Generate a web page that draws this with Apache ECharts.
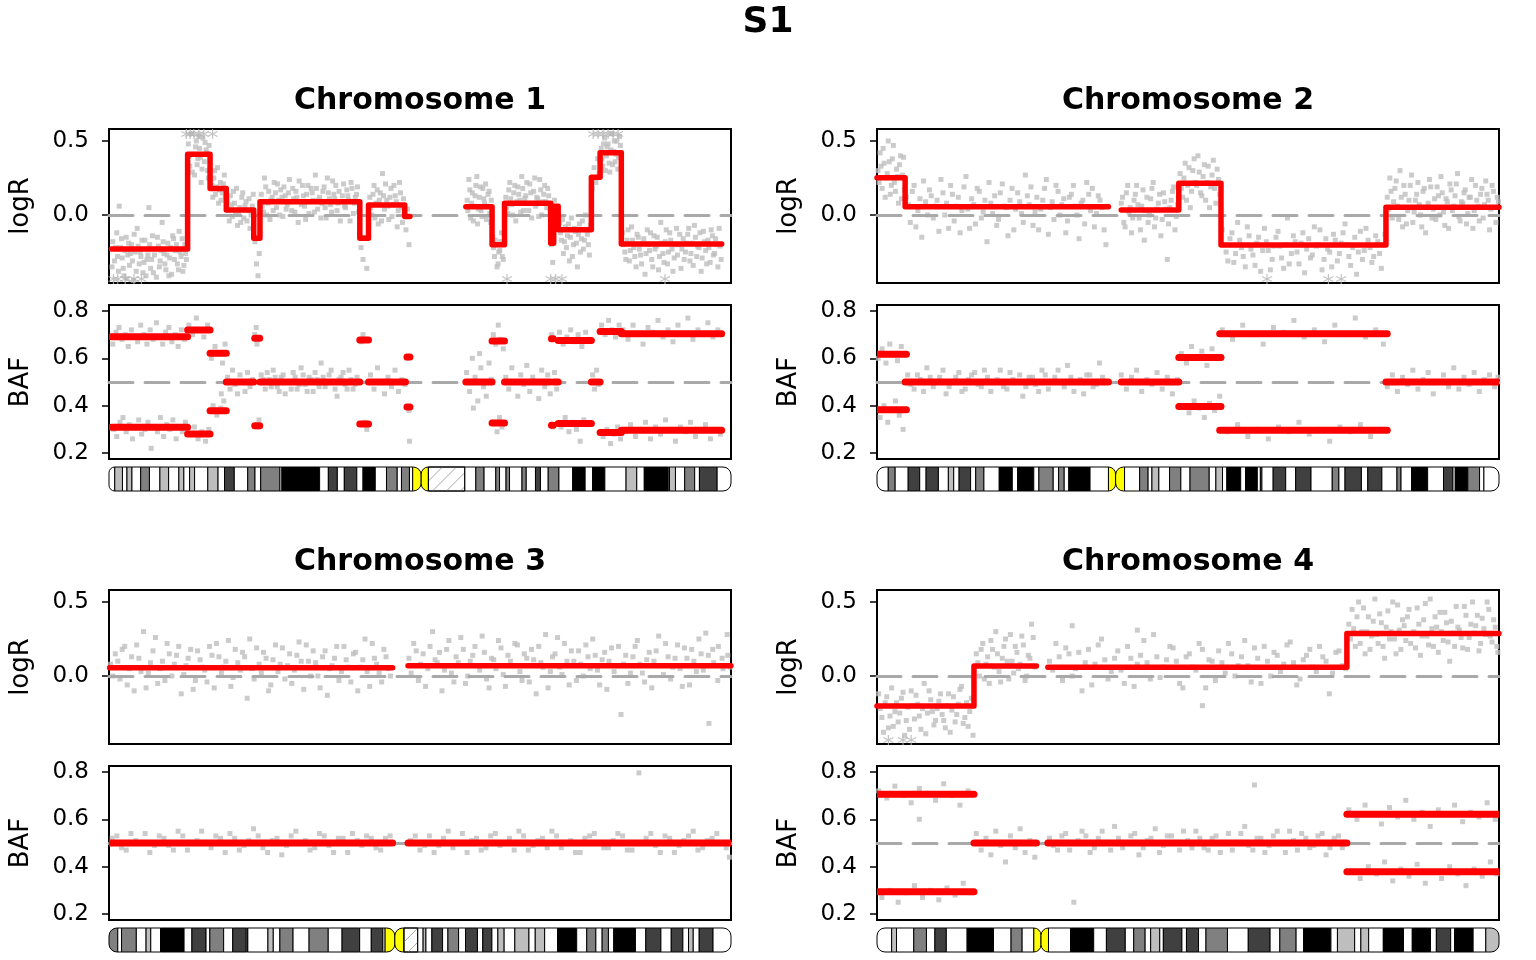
<!DOCTYPE html>
<html><head><meta charset="utf-8">
<script src="https://cdn.jsdelivr.net/npm/echarts@6/dist/echarts.min.js"></script>
<style>html,body{margin:0;padding:0;background:#fff}#c{width:1536px;height:960px}</style>
</head><body><div id="c"></div>
<script>
// ---------------- DATA ----------------
const sampleName = 'S1';
const chromosomeTitles = ['Chromosome 1', 'Chromosome 2', 'Chromosome 3', 'Chromosome 4'];
const chromosomeLengths = [249.25, 243.2, 198.02, 191.15]; // Mb
const logRTicks = [0.0, 0.5];
const bafTicks = [0.2, 0.4, 0.6, 0.8];
const logRRange = [-0.459, 0.581];
const bafRange = [0.175, 0.825];

// segments: [start Mb, end Mb, value]
const chr1LogRSegments = [[1.0,31.5,-0.23],[31.5,40.5,0.41],[40.5,47.0,0.18],[47.0,58.0,0.034],[58.0,60.5,-0.157],[60.5,100.5,0.09],[100.5,104.0,-0.157],[104.0,118.5,0.068],[118.5,120.6,-0.01],[143.0,153.5,0.056],[153.5,158.5,-0.20],[158.5,177.0,0.079],[177.0,178.2,-0.19],[178.2,180.0,0.06],[180.0,193.3,-0.10],[193.3,196.8,0.255],[196.8,205.3,0.42],[205.3,245.5,-0.196]];
const chr1BafSegments = [[1.0,31.5,0.691],[31.5,40.5,0.72],[40.5,47.0,0.621],[47.0,58.0,0.5],[58.4,60.4,0.685],[60.5,100.5,0.5],[100.5,104.0,0.677],[104.0,118.8,0.5],[119.4,120.6,0.606],[143.0,153.5,0.5],[153.5,158.5,0.673],[158.5,176.8,0.5],[177.3,178.0,0.683],[178.2,180.0,0.5],[180.0,193.3,0.675],[193.3,196.8,0.5],[196.8,205.3,0.713],[205.3,245.5,0.704]];
const chr2LogRSegments = [[0.0,11.0,0.252],[11.0,90.5,0.056],[95.5,118.0,0.034],[118.0,134.5,0.214],[134.5,199.0,-0.203],[199.0,243.2,0.052]];
const chr2BafSegments = [[0.0,11.5,0.617],[11.0,90.5,0.5],[95.5,118.0,0.5],[118.0,134.5,0.603],[134.0,199.5,0.704],[199.0,243.2,0.5]];
const chr3LogRSegments = [[0.2,90.3,0.056],[95.2,198.0,0.07]];
const chr3BafSegments = [[0.2,90.3,0.5],[95.2,198.0,0.5]];
const chr4LogRSegments = [[0.0,29.8,-0.203],[29.8,49.0,0.068],[52.5,144.4,0.059],[144.4,191.15,0.288]];
const chr4BafSegments = [[0.0,29.8,0.706],[29.8,49.0,0.5],[52.5,144.4,0.5],[144.4,191.15,0.621]];

// probe-level points: [position Mb, value]
const chr1LogRPoints = [[1.5,-0.18],[2.2,-0.31],[3.1,-0.12],[3.8,-0.38],[4.1,0.06],[4.6,-0.22],[5.3,-0.29],[6.0,-0.41],[6.9,-0.15],[7.5,-0.27],[8.2,-0.34],[9.0,-0.2],[9.8,-0.44],[10.5,-0.25],[11.3,-0.09],[12.1,-0.33],[12.8,-0.28],[13.6,-0.39],[14.4,-0.17],[15.2,-0.3],[15.9,-0.23],[16.0,0.05],[16.7,-0.36],[17.4,-0.14],[18.2,-0.27],[19.0,-0.42],[19.8,-0.21],[20.5,-0.31],[21.3,-0.05],[22.0,-0.26],[22.8,-0.37],[23.6,-0.19],[24.3,-0.29],[25.1,-0.4],[25.9,-0.16],[26.6,-0.24],[27.4,-0.33],[28.1,-0.11],[28.9,-0.28],[29.6,-0.38],[30.4,-0.2],[31.0,-0.3],
[31.8,0.48],[32.4,0.33],[33.0,0.55],[33.7,0.41],[34.3,0.27],[35.0,0.5],[35.6,0.38],[36.3,0.45],[36.9,0.22],[37.6,0.52],[38.2,0.36],[38.9,0.44],[39.5,0.3],[40.1,0.47],
[40.8,0.24],[41.6,0.12],[42.3,0.3],[43.1,0.19],[43.9,0.08],[44.6,0.22],[45.4,0.15],[46.2,0.27],
[47.4,0.1],[48.2,-0.04],[49.0,0.07],[49.9,0.16],[50.7,0.01],[51.5,-0.07],[52.4,0.05],[53.2,0.12],[54.0,-0.02],[54.9,0.09],[55.7,0.03],[56.5,-0.09],[57.4,0.06],
[58.5,-0.18],[59.1,-0.33],[59.7,-0.41],[60.2,-0.26],
[61.0,0.14],[61.9,0.02],[62.8,0.19],[63.6,0.08],[64.5,-0.03],[65.4,0.12],[66.2,0.22],[67.1,0.05],[68.0,0.1],[68.8,0.17],[69.7,-0.01],[70.6,0.13],[71.4,0.07],[72.3,0.24],[73.2,0.03],[74.0,0.11],[74.9,0.16],[75.8,-0.05],[76.6,0.09],[77.5,0.2],[78.4,0.06],[79.2,0.14],[80.1,0.01],[81.0,0.18],[81.8,0.1],[82.7,0.27],[83.6,0.04],[84.4,0.12],[85.3,0.08],[86.2,0.19],[87.0,-0.02],[87.9,0.15],[88.8,0.07],[89.6,0.23],[90.5,0.11],[91.4,0.03],[92.2,0.16],[93.1,0.09],[94.0,0.21],[94.8,0.05],[95.7,0.13],[96.6,-0.04],[97.4,0.18],[98.3,0.08],[99.2,0.14],[100.0,0.02],
[101.0,-0.22],[101.8,-0.3],[102.5,-0.15],[103.3,-0.36],
[104.5,0.12],[105.3,0.0],[106.2,0.2],[107.0,0.08],[107.9,-0.06],[108.7,0.15],[109.6,0.28],[110.4,0.04],[111.3,0.1],[112.1,-0.03],[113.0,0.18],[113.8,0.07],[114.7,0.13],[115.5,-0.08],[116.4,0.22],[117.2,0.05],[118.0,0.11],[119.0,-0.1],[119.6,0.04],[120.2,-0.2],
[143.5,0.1],[144.2,0.24],[144.9,-0.02],[145.6,0.15],[146.3,0.06],[147.0,0.2],[147.7,-0.06],[148.4,0.12],[149.1,0.03],[149.8,0.18],[150.5,0.08],[151.2,-0.03],[151.9,0.14],[152.6,0.01],[153.2,0.1],
[153.8,-0.15],[154.5,-0.28],[155.2,-0.2],[155.9,-0.33],[156.6,-0.24],[157.3,-0.12],[158.0,-0.3],
[159.0,0.12],[159.8,0.01],[160.6,0.22],[161.4,0.07],[162.2,0.15],[163.0,-0.04],[163.8,0.19],[164.6,0.1],[165.4,0.26],[166.2,0.03],[167.0,0.13],[167.8,0.08],[168.6,0.21],[169.4,-0.02],[170.2,0.16],[171.0,0.06],[171.8,0.11],[172.6,0.24],[173.4,0.0],[174.2,0.14],[175.0,0.09],[175.8,0.18],[176.6,0.04],
[177.3,-0.2],[177.8,-0.32],[178.5,0.1],[179.4,0.02],
[180.5,-0.05],[181.3,-0.17],[182.1,-0.26],[182.9,-0.08],[183.7,-0.14],[184.5,-0.31],[185.3,-0.02],[186.1,-0.2],[186.9,-0.11],[187.7,-0.35],[188.5,-0.06],[189.3,-0.16],[190.1,-0.23],[190.9,0.0],[191.7,-0.13],[192.5,-0.27],
[193.7,0.18],[194.4,0.32],[195.1,0.22],[195.8,0.38],[196.4,0.28],
[197.2,0.45],[197.9,0.33],[198.6,0.52],[199.3,0.4],[200.0,0.48],[200.7,0.29],[201.4,0.55],[202.1,0.43],[202.8,0.36],[203.5,0.5],[204.2,0.39],[204.9,0.47],
[205.8,-0.12],[206.7,-0.25],[207.6,-0.17],[208.5,-0.31],[209.4,-0.08],[210.3,-0.22],[211.2,-0.35],[212.1,-0.15],[213.0,-0.27],[213.9,-0.19],[214.8,-0.4],[215.7,-0.1],[216.6,-0.24],[217.5,-0.3],[218.4,-0.14],[219.3,-0.21],[220.2,-0.37],[221.1,-0.05],[222.0,-0.26],[222.9,-0.18],[223.8,-0.33],[224.7,-0.12],[225.6,-0.23],[226.5,-0.29],[227.4,-0.09],[228.3,-0.2],[229.2,-0.36],[230.1,-0.16],[231.0,-0.25],[231.9,-0.13],[232.8,-0.31],[233.7,-0.19],[234.6,-0.07],[235.5,-0.28],[236.4,-0.22],[237.3,-0.38],[238.2,-0.11],[239.1,-0.24],[240.0,-0.17],[240.9,-0.32],[241.8,-0.14],[242.7,-0.26],[243.6,-0.2],[244.5,-0.09],[245.3,-0.3]];
const chr1LogRPointsB = [[1.2,-0.35],[2.6,-0.22],[3.4,-0.28],[5.0,-0.16],[5.7,-0.36],[6.4,-0.24],[7.2,-0.43],[7.9,-0.19],[8.6,-0.26],[9.4,-0.31],[10.1,-0.13],[10.9,-0.38],[11.7,-0.21],[12.5,-0.25],[13.2,-0.17],[14.0,-0.32],[14.8,-0.41],[15.6,-0.27],[16.3,-0.2],[17.1,-0.3],[17.8,-0.39],[18.6,-0.23],[19.4,-0.15],[20.2,-0.35],[20.9,-0.24],[21.7,-0.18],[22.4,-0.33],[23.2,-0.27],[24.0,-0.41],[24.7,-0.22],[25.5,-0.14],[26.2,-0.3],[27.0,-0.2],[27.8,-0.37],[28.5,-0.25],[29.3,-0.16],[30.0,-0.34],[30.7,-0.26],
[32.1,0.4],[33.4,0.29],[34.7,0.46],[35.3,0.34],[36.0,0.53],[36.6,0.39],[37.3,0.31],[38.5,0.49],[39.2,0.42],[39.8,0.25],
[41.2,0.2],[42.0,0.25],[42.7,0.14],[43.5,0.32],[44.2,0.17],[45.0,0.1],[45.8,0.21],[46.6,0.13],
[47.8,0.03],[48.6,0.13],[49.4,-0.01],[50.3,0.08],[51.1,0.18],[51.9,0.02],[52.8,-0.05],[53.6,0.15],[54.5,0.06],[55.3,-0.04],[56.1,0.11],[56.9,0.0],[57.8,0.14],
[61.4,0.06],[62.3,0.25],[63.2,0.0],[64.0,0.16],[64.9,0.1],[65.8,0.03],[66.7,0.15],[67.5,0.21],[68.4,0.0],[69.3,0.12],[70.1,0.19],[71.0,0.04],[71.9,0.15],[72.7,0.09],[73.6,0.18],[74.5,0.02],[75.3,0.12],[76.2,0.23],[77.1,0.07],[77.9,0.13],[78.8,-0.03],[79.7,0.2],[80.5,0.09],[81.4,0.15],[82.3,0.02],[83.1,0.18],[84.0,0.1],[84.9,-0.02],[85.7,0.16],[86.6,0.05],[87.5,0.25],[88.3,0.11],[89.2,0.02],[90.1,0.14],[90.9,0.2],[91.8,0.08],[92.7,-0.04],[93.5,0.13],[94.4,0.06],[95.3,0.17],[96.1,0.1],[97.0,0.22],[97.9,0.01],[98.7,0.12],[99.6,0.19],
[104.9,0.05],[105.8,0.14],[106.6,-0.02],[107.5,0.17],[108.3,0.1],[109.2,-0.04],[110.0,0.13],[110.8,0.21],[111.7,0.06],[112.6,0.12],[113.4,-0.01],[114.2,0.2],[115.1,0.09],[115.9,0.03],[116.8,0.15],[117.6,-0.05],
[143.8,0.03],[144.6,0.17],[145.3,0.08],[146.0,-0.04],[146.7,0.13],[147.4,0.26],[148.1,0.04],[148.8,0.19],[149.5,-0.01],[150.2,0.11],[150.9,0.21],[151.6,0.06],[152.3,0.16],[153.0,-0.05],
[154.1,-0.22],[154.8,-0.17],[155.5,-0.35],[156.2,-0.25],[156.9,-0.18],[157.6,-0.28],
[159.4,0.05],[160.2,0.17],[161.0,0.11],[161.8,0.0],[162.6,0.2],[163.4,0.09],[164.2,0.14],[165.0,0.02],[165.8,0.18],[166.6,0.11],[167.4,0.22],[168.2,0.03],[169.0,0.15],[169.8,0.08],[170.6,0.25],[171.4,0.12],[172.2,-0.01],[173.0,0.17],[173.8,0.09],[174.6,0.2],[175.4,0.05],[176.2,0.13],
[180.9,-0.12],[181.7,-0.03],[182.5,-0.18],[183.3,-0.22],[184.1,-0.06],[184.9,-0.15],[185.7,-0.28],[186.5,-0.09],[187.3,-0.19],[188.1,-0.13],[188.9,-0.25],[189.7,-0.04],[190.5,-0.17],[191.3,-0.1],[192.1,-0.2],[192.9,-0.07],
[197.5,0.38],[198.2,0.48],[198.9,0.3],[199.6,0.46],[200.4,0.35],[201.1,0.44],[201.8,0.34],[202.5,0.5],[203.2,0.41],[203.9,0.31],[204.6,0.53],
[206.2,-0.2],[207.1,-0.3],[208.0,-0.1],[208.9,-0.24],[209.8,-0.17],[210.7,-0.28],[211.6,-0.13],[212.5,-0.23],[213.4,-0.33],[214.3,-0.16],[215.2,-0.26],[216.1,-0.2],[217.0,-0.12],[217.9,-0.35],[218.8,-0.23],[219.7,-0.15],[220.6,-0.28],[221.5,-0.19],[222.4,-0.32],[223.3,-0.1],[224.2,-0.25],[225.1,-0.17],[226.0,-0.38],[226.9,-0.2],[227.8,-0.27],[228.7,-0.13],[229.6,-0.23],[230.5,-0.3],[231.4,-0.19],[232.3,-0.09],[233.2,-0.26],[234.1,-0.34],[235.0,-0.15],[235.9,-0.21],[236.8,-0.12],[237.7,-0.29],[238.6,-0.18],[239.5,-0.33],[240.4,-0.22],[241.3,-0.1],[242.2,-0.27],[243.1,-0.16],[244.0,-0.35],[244.9,-0.21]];
const chr1LogROutliers = [[1.8,-0.432],[3.5,-0.432],[6.5,-0.432],[10.0,-0.432],[13.0,-0.432],[31.0,0.547],[32.5,0.547],[34.0,0.547],[36.0,0.547],[38.0,0.547],[41.5,0.547],[159.5,-0.432],[177.0,-0.432],[179.0,-0.432],[181.5,-0.432],[194.0,0.547],[196.0,0.547],[198.0,0.547],[200.0,0.547],[202.0,0.547],[204.0,0.547],[222.8,-0.432]];
const chr1BafPoints = [[1.5,0.66],[2.8,0.71],[4.0,0.73],[5.2,0.68],[6.5,0.7],[7.7,0.65],[9.0,0.72],[10.2,0.69],[11.5,0.67],[12.7,0.74],[14.0,0.7],[15.2,0.66],[16.5,0.72],[17.7,0.68],[19.0,0.75],[20.2,0.69],[21.5,0.66],[22.7,0.71],[24.0,0.73],[25.2,0.67],[26.5,0.7],[27.7,0.65],[29.0,0.72],[30.2,0.68],
[1.9,0.3],[3.1,0.27],[4.4,0.33],[5.6,0.35],[6.9,0.29],[8.1,0.32],[9.4,0.26],[10.6,0.31],[11.9,0.34],[13.1,0.28],[14.4,0.3],[15.6,0.33],[16.9,0.22],[18.1,0.31],[19.4,0.29],[20.6,0.35],[21.9,0.27],[23.1,0.32],[24.4,0.3],[25.6,0.34],[26.9,0.26],[28.1,0.31],[29.4,0.29],[30.6,0.33],
[32,0.74],[33.5,0.7],[35,0.77],[36.5,0.72],[38,0.69],[39.5,0.74],[32.7,0.28],[34.2,0.31],[35.7,0.26],[37.2,0.29],[38.7,0.25],[40,0.3],
[41,0.6],[42.5,0.65],[44,0.62],[45.5,0.58],[46.5,0.66],[41.7,0.4],[43.2,0.36],[44.8,0.39],[46,0.42],[45,0.45],
[47.5,0.52],[48.5,0.47],[49.5,0.55],[50.5,0.49],[51.5,0.45],[52.5,0.53],[53.5,0.5],[54.5,0.46],[55.5,0.54],[56.5,0.48],[57.5,0.51],
[58.4,0.7],[59.0,0.73],[59.3,0.66],[59.6,0.31],[60.1,0.34],
[61,0.53],[62.6,0.47],[64.2,0.51],[65.8,0.55],[67.4,0.48],[69,0.52],[70.6,0.45],[72.2,0.5],[73.8,0.54],[75.4,0.47],[77,0.56],[78.6,0.49],[80.2,0.52],[81.8,0.46],[83.4,0.51],[85,0.58],[86.6,0.48],[88.2,0.53],[89.8,0.5],[91.4,0.44],[93,0.52],[94.6,0.49],[96.2,0.55],[97.8,0.47],[99.4,0.52],
[61.8,0.51],[63.4,0.54],[65,0.48],[66.6,0.52],[68.2,0.46],[69.8,0.53],[71.4,0.5],[73,0.47],[74.6,0.52],[76.2,0.49],[77.8,0.53],[79.4,0.46],[81,0.51],[82.6,0.54],[84.2,0.48],[85.8,0.52],[87.4,0.5],[89,0.55],[90.6,0.47],[92.2,0.51],[93.8,0.54],[95.4,0.47],[97,0.51],[98.6,0.49],
[101,0.67],[101.8,0.7],[102.6,0.33],[103.3,0.3],
[104.8,0.53],[106.2,0.47],[107.6,0.56],[109,0.5],[110.4,0.45],[111.8,0.52],[113.2,0.48],[114.6,0.55],[116,0.46],[117.4,0.51],[118.6,0.49],[119.5,0.6],[120.2,0.38],[120.4,0.25],
[143.3,0.54],[144.5,0.46],[145.6,0.6],[146.7,0.52],[147.8,0.42],[149,0.56],[150.1,0.48],[151.2,0.44],[152.3,0.58],[153.2,0.51],[148.5,0.62],[146,0.39],
[154,0.7],[155,0.66],[156,0.74],[157,0.68],[158,0.64],[154.5,0.33],[155.5,0.29],[156.5,0.35],[157.5,0.31],
[159,0.52],[160.2,0.47],[161.4,0.56],[162.6,0.5],[163.8,0.44],[165,0.53],[166.2,0.49],[167.4,0.57],[168.6,0.46],[169.8,0.52],[171,0.5],[172.2,0.43],[173.4,0.55],[174.6,0.48],[175.8,0.53],[176.8,0.45],
[177.4,0.7],[177.8,0.31],[178.5,0.54],[179.4,0.47],
[180.5,0.71],[182,0.66],[183.5,0.69],[185,0.72],[186.5,0.67],[188,0.7],[189.5,0.65],[191,0.71],[192.5,0.68],[181.2,0.31],[182.8,0.35],[184.3,0.29],[185.8,0.33],[187.3,0.3],[188.8,0.25],[190.3,0.34],[191.8,0.32],
[193.8,0.53],[194.6,0.47],[195.4,0.55],[196.3,0.49],
[197.4,0.74],[198.8,0.7],[200.2,0.76],[201.6,0.72],[203,0.69],[204.4,0.74],[198,0.27],[199.5,0.3],[201,0.24],[202.4,0.28],[203.8,0.31],[205,0.26],
[206,0.72],[208,0.68],[210,0.74],[212,0.7],[214,0.66],[216,0.73],[218,0.71],[220,0.76],[222,0.69],[224,0.72],[226,0.67],[228,0.74],[230,0.7],[232,0.77],[234,0.68],[236,0.72],[238,0.7],[240,0.75],[242,0.69],[244,0.72],
[207,0.29],[209,0.32],[211,0.27],[213,0.3],[215,0.33],[217,0.26],[219,0.31],[221,0.28],[223,0.34],[225,0.3],[227,0.25],[229,0.31],[231,0.29],[233,0.33],[235,0.27],[237,0.3],[239,0.32],[241,0.26],[243,0.3],[245,0.28]];

const chr2LogRPoints = [[0.4,0.3],[1.2,0.42],[2.0,0.18],[2.8,0.35],[3.6,0.25],[4.4,0.5],[5.2,0.14],[6.0,0.38],[6.8,0.22],[7.6,0.31],[8.4,0.08],[9.2,0.4],[10.0,0.27],[10.7,0.17],
[11.5,0.12],[13,-0.05],[14.5,0.2],[16,0.03],[17.5,-0.15],[19,0.09],[20.5,0.17],[22,-0.02],[23.5,0.1],[25,0.24],[26.5,0.0],[28,-0.09],[29.5,0.14],[31,0.06],[32.5,-0.12],[34,0.19],[35.5,0.04],[37,0.11],[38.5,-0.06],[40,0.16],[41.5,0.02],[43,-0.18],[44.5,0.08],[46,0.13],[47.5,-0.03],[49,0.21],[50.5,0.05],[52,0.1],[53.5,-0.1],[55,0.15],[56.5,0.01],[58,0.27],[59.5,0.07],[61,-0.07],[62.5,0.12],[64,0.04],[65.5,0.18],[67,-0.13],[68.5,0.09],[70,0.2],[71.5,0.0],[73,0.11],[74.5,-0.04],[76,0.14],[77.5,0.06],[79,-0.16],[80.5,0.1],[82,0.22],[83.5,0.03],[85,-0.08],[86.5,0.13],[88,0.05],[89.5,-0.2],
[95.5,0.08],[96.5,-0.05],[97.5,0.15],[98.5,0.02],[99.5,-0.12],[100.5,0.1],[101.5,0.2],[102.5,-0.02],[103.5,0.06],[104.5,-0.17],[105.5,0.12],[106.5,0.0],[107.5,0.18],[108.5,-0.08],[109.5,0.04],[110.5,0.14],[111.5,-0.03],[112.5,0.09],[113.5,-0.3],[114.5,0.05],[115.5,0.16],[116.5,-0.1],[117.5,0.07],
[118.5,0.28],[119.5,0.12],[120.5,0.35],[121.5,0.2],[122.5,0.05],[123.5,0.3],[124.5,0.22],[125.5,0.4],[126.5,0.15],[127.5,0.26],[128.5,0.1],[129.5,0.33],[130.5,0.19],[131.5,0.37],[132.5,0.08],[133.5,0.24],
[135,-0.1],[136.5,-0.25],[138,-0.16],[139.5,-0.32],[141,-0.05],[142.5,-0.22],[144,-0.35],[145.5,-0.14],[147,-0.27],[148.5,-0.19],[150,-0.38],[151.5,-0.09],[153,-0.24],[154.5,-0.3],[156,-0.15],[157.5,-0.21],[159,-0.36],[160.5,-0.02],[162,-0.26],[163.5,-0.18],[165,-0.33],[166.5,-0.12],[168,-0.23],[169.5,-0.29],[171,-0.08],[172.5,-0.2],[174,-0.37],[175.5,-0.16],[177,-0.25],[178.5,-0.13],[180,-0.31],[181.5,-0.19],[183,-0.06],[184.5,-0.28],[186,-0.22],[187.5,-0.4],[189,-0.11],[190.5,-0.24],[192,-0.17],[193.5,-0.32],[195,-0.14],[196.5,-0.26],[198,-0.2],
[199.5,0.12],[200.5,0.25],[201.5,-0.02],[202.5,0.18],[203.5,0.06],[204.5,0.3],[205.5,-0.08],[206.5,0.14],[207.5,0.03],[208.5,0.2],[209.5,-0.05],[210.5,0.1],[211.5,0.22],[212.5,0.0],[213.5,0.16],[214.5,-0.12],[215.5,0.08],[216.5,0.19],[217.5,0.04],[218.5,-0.03],[219.5,0.13],[220.5,0.26],[221.5,0.02],[222.5,0.11],[223.5,-0.09],[224.5,0.17],[225.5,0.06],[226.5,0.21],[227.5,-0.01],[228.5,0.09],[229.5,0.15],[230.5,-0.06],[231.5,0.12],[232.5,0.24],[233.5,0.03],[234.5,0.1],[235.5,-0.04],[236.5,0.18],[237.5,0.07],[238.5,0.14],[239.5,-0.1],[240.5,0.2],[241.5,0.05],[242.5,0.12]];
const chr2LogRPointsB = [[0.8,0.22],[1.6,0.33],[2.4,0.45],[3.2,0.12],[4.0,0.28],[4.8,0.36],[5.6,0.2],[6.4,0.47],[7.2,0.16],[8.0,0.26],[8.8,0.34],[9.6,0.11],[10.4,0.39],
[12.2,0.07],[13.8,0.16],[15.2,-0.08],[16.8,0.11],[18.2,0.23],[19.8,0.0],[21.2,0.13],[22.8,0.06],[24.2,-0.11],[25.8,0.15],[27.2,0.08],[28.8,0.2],[30.2,-0.04],[31.8,0.12],[33.2,0.03],[34.8,0.26],[36.2,-0.09],[37.8,0.07],[39.2,0.18],[40.8,-0.02],[42.2,0.1],[43.8,0.22],[45.2,0.01],[46.8,-0.07],[48.2,0.15],[49.8,0.06],[51.2,-0.14],[52.8,0.18],[54.2,0.04],[55.8,0.09],[57.2,-0.05],[58.8,0.13],[60.2,0.19],[61.8,0.02],[63.2,-0.1],[64.8,0.1],[66.2,0.24],[67.8,0.05],[69.2,-0.03],[70.8,0.16],[72.2,0.07],[73.8,-0.12],[75.2,0.12],[76.8,0.2],[78.2,0.0],[79.8,0.08],[81.2,-0.06],[82.8,0.14],[84.2,0.18],[85.8,0.01],[87.2,0.1],[88.8,-0.1],[90.0,0.06],
[96.0,0.12],[97.0,-0.08],[98.0,0.2],[99.0,0.05],[100.0,-0.02],[101.0,0.14],[102.0,0.07],[103.0,-0.1],[104.0,0.17],[105.0,0.03],[106.0,-0.05],[107.0,0.11],[108.0,0.22],[109.0,-0.02],[110.0,0.08],[111.0,-0.14],[112.0,0.15],[113.0,0.04],[114.0,-0.06],[115.0,0.1],[116.0,0.19],[117.0,-0.01],
[119,0.18],[120,0.25],[121,0.1],[122,0.32],[123,0.16],[124,0.38],[125,0.2],[126,0.29],[127,0.13],[128,0.34],[129,0.22],[130,0.05],[131,0.27],[132,0.18],[133,0.31],[134,0.14],
[135.8,-0.2],[137.2,-0.31],[138.8,-0.12],[140.2,-0.26],[141.8,-0.17],[143.2,-0.28],[144.8,-0.08],[146.2,-0.23],[147.8,-0.34],[149.2,-0.15],[150.8,-0.24],[152.2,-0.18],[153.8,-0.37],[155.2,-0.21],[156.8,-0.11],[158.2,-0.29],[159.8,-0.2],[161.2,-0.33],[162.8,-0.14],[164.2,-0.25],[165.8,-0.19],[167.2,-0.39],[168.8,-0.16],[170.2,-0.27],[171.8,-0.21],[173.2,-0.1],[174.8,-0.3],[176.2,-0.23],[177.8,-0.35],[179.2,-0.17],[180.8,-0.26],[182.2,-0.12],[183.8,-0.2],[185.2,-0.34],[186.8,-0.15],[188.2,-0.25],[189.8,-0.3],[191.2,-0.09],[192.8,-0.22],[194.2,-0.28],[195.8,-0.18],[197.2,-0.36],[198.6,-0.13],
[200,0.04],[201,0.16],[202,0.09],[203,0.23],[204,-0.03],[205,0.12],[206,0.2],[207,-0.06],[208,0.1],[209,0.27],[210,0.02],[211,0.14],[212,0.07],[213,-0.08],[214,0.18],[215,0.05],[216,0.24],[217,-0.02],[218,0.11],[219,0.19],[220,0.0],[221,0.15],[222,-0.07],[223,0.09],[224,0.21],[225,0.03],[226,0.13],[227,0.28],[228,-0.04],[229,0.08],[230,0.17],[231,0.01],[232,0.12],[233,-0.09],[234,0.2],[235,0.06],[236,0.14],[237,-0.02],[238,0.23],[239,0.1],[240,0.04],[241,0.16],[242,-0.05],[243,0.09]];
const chr2LogROutliers = [[152.5,-0.432],[176.5,-0.432],[181.5,-0.432]];
const chr2BafPoints = [[0.5,0.6],[2,0.64],[3.5,0.58],[5,0.66],[6.5,0.62],[8,0.59],[9.5,0.65],[1.2,0.35],[2.7,0.4],[4.2,0.33],[5.7,0.38],[7.2,0.42],[8.7,0.36],[10.2,0.3],
[12,0.53],[14.5,0.47],[17,0.51],[19.5,0.56],[22,0.48],[24.5,0.52],[27,0.45],[29.5,0.5],[32,0.54],[34.5,0.47],[37,0.53],[39.5,0.49],[42,0.55],[44.5,0.46],[47,0.51],[49.5,0.48],[52,0.54],[54.5,0.5],[57,0.44],[59.5,0.52],[62,0.49],[64.5,0.55],[67,0.47],[69.5,0.52],[72,0.5],[74.5,0.57],[77,0.46],[79.5,0.51],[82,0.53],[84.5,0.48],[87,0.58],[89.5,0.5],
[13.2,0.49],[15.8,0.53],[18.2,0.46],[20.8,0.52],[23.2,0.5],[25.8,0.55],[28.2,0.48],[30.8,0.52],[33.2,0.46],[35.8,0.51],[38.2,0.54],[40.8,0.48],[43.2,0.52],[45.8,0.5],[48.2,0.55],[50.8,0.47],[53.2,0.51],[55.8,0.53],[58.2,0.48],[60.8,0.52],[63.2,0.46],[65.8,0.53],[68.2,0.5],[70.8,0.55],[73.2,0.48],[75.8,0.52],[78.2,0.5],[80.8,0.45],[83.2,0.53],[85.8,0.49],[88.2,0.52],
[95.5,0.53],[97.5,0.47],[99.5,0.52],[101.5,0.55],[103.5,0.46],[105.5,0.51],[107.5,0.49],[109.5,0.54],[111.5,0.47],[113.5,0.52],[115.5,0.45],[117.5,0.51],
[119,0.62],[121,0.58],[123,0.65],[125,0.6],[127,0.63],[129,0.57],[131,0.64],[133,0.6],[120,0.4],[122,0.37],[124,0.42],[126,0.39],[128,0.35],[130,0.41],[132,0.38],[134,0.44],
[135,0.72],[139,0.68],[143,0.74],[147,0.7],[151,0.66],[155,0.73],[159,0.71],[163,0.76],[167,0.69],[171,0.72],[175,0.67],[179,0.74],[183,0.7],[187,0.77],[191,0.69],[195,0.72],[198,0.66],
[137,0.29],[141,0.32],[145,0.27],[149,0.3],[153,0.26],[157,0.31],[161,0.29],[165,0.33],[169,0.28],[173,0.3],[177,0.25],[181,0.31],[185,0.29],[189,0.32],[193,0.27],[197,0.3],
[199.5,0.48],[201.5,0.53],[203.5,0.46],[205.5,0.52],[207.5,0.49],[209.5,0.55],[211.5,0.47],[213.5,0.51],[215.5,0.54],[217.5,0.45],[219.5,0.5],[221.5,0.53],[223.5,0.48],[225.5,0.56],[227.5,0.47],[229.5,0.52],[231.5,0.49],[233.5,0.54],[235.5,0.46],[237.5,0.51],[239.5,0.53],[241.5,0.48],[242.8,0.52]];

const chr3LogRPoints = [[0.5,0.08],[2,0.15],[3.5,-0.02],[5,0.2],[6.5,0.05],[8,-0.1],[9.5,0.12],[11,0.3],[12.5,0.02],[14,0.17],[15.5,-0.05],[17,0.1],[18.5,0.22],[20,0.0],[21.5,0.14],[23,-0.12],[24.5,0.07],[26,0.18],[27.5,-0.03],[29,0.11],[30.5,0.04],[32,0.2],[33.5,-0.08],[35,0.13],[36.5,0.06],[38,0.24],[39.5,-0.01],[41,0.09],[42.5,0.16],[44,-0.15],[45.5,0.05],[47,0.19],[48.5,0.02],[50,0.12],[51.5,-0.06],[53,0.21],[54.5,0.08],[56,-0.02],[57.5,0.15],[59,0.04],[60.5,0.23],[62,-0.09],[63.5,0.1],[65,0.17],[66.5,0.0],[68,0.13],[69.5,-0.13],[71,0.07],[72.5,0.2],[74,0.03],[75.5,0.11],[77,-0.04],[78.5,0.16],[80,0.06],[81.5,0.25],[83,-0.07],[84.5,0.12],[86,0.02],[87.5,0.18],[89,0.05],
[95.5,0.12],[97,0.22],[98.5,-0.03],[100,0.15],[101.5,0.05],[103,0.3],[104.5,0.09],[106,-0.1],[107.5,0.18],[109,0.02],[110.5,0.13],[112,0.26],[113.5,-0.05],[115,0.1],[116.5,0.2],[118,0.04],[119.5,0.16],[121,-0.08],[122.5,0.11],[124,0.24],[125.5,0.01],[127,0.14],[128.5,0.07],[130,0.21],[131.5,-0.03],[133,0.12],[134.5,0.18],[136,-0.12],[137.5,0.09],[139,0.28],[140.5,0.03],[142,0.15],[143.5,0.06],[145,0.22],[146.5,-0.06],[148,0.1],[149.5,0.17],[151,0.0],[152.5,0.13],[154,0.25],[155.5,0.04],[157,0.11],[158.5,-0.09],[160,0.19],[161.5,0.07],[163,-0.26],[164.5,0.14],[166,0.02],[167.5,0.2],[169,0.08],[170.5,-0.04],[172,0.16],[173.5,0.1],[175,0.27],[176.5,0.01],[178,0.13],[179.5,0.06],[181,0.21],[182.5,-0.07],[184,0.12],[185.5,0.18],[187,0.03],[188.5,0.15],[190,0.29],[191,-0.32],[192.5,0.09],[194,0.2],[195.5,0.05],[197,0.14]];
const chr3LogRPointsB = [[1.2,0.0],[2.8,0.1],[4.2,0.18],[5.8,-0.06],[7.2,0.13],[8.8,0.21],[10.2,0.03],[11.8,-0.08],[13.2,0.09],[14.8,0.26],[16.2,0.05],[17.8,-0.03],[19.2,0.15],[20.8,0.08],[22.2,0.2],[23.8,0.01],[25.2,0.12],[26.8,-0.09],[28.2,0.17],[29.8,0.06],[31.2,-0.04],[32.8,0.14],[34.2,0.22],[35.8,0.02],[37.2,0.1],[38.8,-0.07],[40.2,0.18],[41.8,0.04],[43.2,0.13],[44.8,0.25],[46.2,-0.02],[47.8,0.08],[49.2,0.16],[50.8,-0.1],[52.2,0.11],[53.8,0.03],[55.2,0.19],[56.8,0.07],[58.2,-0.05],[59.8,0.14],[61.2,0.1],[62.8,0.21],[64.2,0.0],[65.8,0.09],[67.2,-0.08],[68.8,0.17],[70.2,0.05],[71.8,0.12],[73.2,-0.03],[74.8,0.2],[76.2,0.06],[77.8,0.15],[79.2,-0.1],[80.8,0.11],[82.2,0.03],[83.8,0.22],[85.2,0.08],[86.8,-0.04],[88.2,0.13],[89.6,0.0],
[96.2,0.02],[97.8,0.17],[99.2,0.08],[100.8,-0.07],[102.2,0.2],[103.8,0.11],[105.2,0.16],[106.8,0.04],[108.2,0.24],[109.8,-0.04],[111.2,0.09],[112.8,0.18],[114.2,0.0],[115.8,0.14],[117.2,0.07],[118.8,0.27],[120.2,-0.02],[121.8,0.12],[123.2,0.05],[124.8,0.19],[126.2,-0.07],[127.8,0.1],[129.2,0.22],[130.8,0.03],[132.2,0.15],[133.8,-0.04],[135.2,0.11],[136.8,0.2],[138.2,0.06],[139.8,-0.08],[141.2,0.13],[142.8,0.26],[144.2,0.01],[145.8,0.1],[147.2,0.17],[148.8,-0.03],[150.2,0.08],[151.8,0.21],[153.2,0.05],[154.8,0.14],[156.2,-0.06],[157.8,0.16],[159.2,0.1],[160.8,0.03],[162.2,0.2],[163.8,0.08],[165.2,-0.05],[166.8,0.13],[168.2,0.24],[169.8,0.02],[171.2,0.11],[172.8,-0.08],[174.2,0.17],[175.8,0.07],[177.2,0.22],[178.8,-0.02],[180.2,0.12],[181.8,0.05],[183.2,0.19],[184.8,-0.06],[186.2,0.1],[187.8,0.25],[189.2,0.04],[190.8,0.14],[192.2,0.18],[193.8,-0.03],[195.2,0.12],[196.8,0.28],[197.8,0.06]];
const chr3LogROutliers = [];
const chr3BafPoints = [[1,0.52],[4,0.48],[7,0.54],[10,0.5],[13,0.46],[16,0.53],[19,0.49],[22,0.55],[25,0.47],[28,0.51],[31,0.5],[34,0.53],[37,0.46],[40,0.52],[43,0.49],[46,0.56],[49,0.48],[52,0.51],[55,0.45],[58,0.53],[61,0.5],[64,0.47],[67,0.54],[70,0.49],[73,0.52],[76,0.46],[79,0.51],[82,0.53],[85,0.48],[88,0.52],
[96,0.51],[99,0.47],[102,0.53],[105,0.49],[108,0.55],[111,0.5],[114,0.46],[117,0.52],[120,0.48],[123,0.54],[126,0.5],[129,0.47],[132,0.53],[135,0.49],[138,0.52],[141,0.55],[144,0.48],[147,0.51],[150,0.46],[153,0.53],[156,0.5],[159,0.48],[162,0.54],[165,0.47],[168.7,0.796],[171,0.52],[174,0.49],[177,0.53],[180,0.46],[183,0.51],[186,0.55],[189,0.48],[192,0.52],[195,0.5],[197.5,0.44],
[2.5,0.53],[5.5,0.47],[8.5,0.51],[11.5,0.54],[14.5,0.49],[17.5,0.52],[20.5,0.47],[23.5,0.53],[26.5,0.5],[29.5,0.55],[32.5,0.48],[35.5,0.52],[38.5,0.54],[41.5,0.47],[44.5,0.51],[47.5,0.53],[50.5,0.46],[53.5,0.52],[56.5,0.49],[59.5,0.55],[62.5,0.51],[65.5,0.48],[68.5,0.53],[71.5,0.46],[74.5,0.52],[77.5,0.54],[80.5,0.49],[83.5,0.52],[86.5,0.47],[89.5,0.53],
[97.5,0.53],[100.5,0.49],[103.5,0.46],[106.5,0.52],[109.5,0.48],[112.5,0.54],[115.5,0.51],[118.5,0.47],[121.5,0.53],[124.5,0.49],[127.5,0.52],[130.5,0.55],[133.5,0.47],[136.5,0.51],[139.5,0.48],[142.5,0.53],[145.5,0.5],[148.5,0.46],[151.5,0.52],[154.5,0.54],[157.5,0.48],[160.5,0.51],[163.5,0.53],[166.5,0.47],[169.5,0.5],[172.5,0.54],[175.5,0.46],[178.5,0.52],[181.5,0.49],[184.5,0.53],[187.5,0.47],[190.5,0.51],[193.5,0.54],[196.5,0.48]];

const chr4LogRPoints = [[0.5,-0.12],[1.5,-0.28],[2.5,-0.18],[3.5,-0.35],[4.5,-0.08],[5.5,-0.24],[6.5,-0.31],[7.5,-0.15],[8.5,-0.4],[9.5,-0.21],[10.5,-0.1],[11.5,-0.29],[12.5,-0.19],[13.5,-0.36],[14.5,-0.05],[15.5,-0.25],[16.5,-0.16],[17.5,-0.33],[18.5,-0.22],[19.5,-0.12],[20.5,-0.3],[21.5,-0.2],[22.5,-0.38],[23.5,-0.14],[24.5,-0.26],[25.5,-0.09],[26.5,-0.32],[27.5,-0.18],[28.5,-0.24],[29.5,-0.4],
[30.5,0.15],[31.5,0.0],[32.5,0.22],[33.5,0.08],[34.5,-0.05],[35.5,0.18],[36.5,0.3],[37.5,0.03],[38.5,0.12],[39.5,0.25],[40.5,-0.02],[41.5,0.1],[42.5,0.2],[43.5,0.05],[44.5,0.27],[45.5,-0.03],[46.5,0.14],[47.5,0.35],[48.5,0.06],
[53,0.1],[55,0.22],[57,-0.03],[59,0.15],[60,0.34],[61,0.05],[63,-0.1],[65,0.18],[67,0.08],[69,0.25],[71,-0.02],[73,0.12],[75,0.04],[77,0.2],[79,-0.07],[80,0.31],[81,0.14],[83,0.09],[85,0.28],[87,-0.01],[89,0.11],[91,0.19],[93,-0.05],[95,0.13],[97,0.06],[99,0.22],[100,-0.2],[101,-0.08],[103,0.1],[105,0.17],[107,0.02],[109,0.15],[111,0.07],[113,0.24],[115,-0.04],[117,0.12],[119,0.2],[121,0.0],[123,0.14],[125,0.08],[127,0.23],[129,-0.06],[131,0.11],[133,0.18],[135,0.03],[137,0.13],[139,-0.12],[141,0.16],[143,0.07],
[145,0.35],[146,0.45],[147,0.2],[148,0.5],[149,0.3],[150,0.15],[151,0.4],[152,0.27],[153,0.52],[154,0.22],[155,0.36],[156,0.12],[157,0.44],[158,0.3],[159,0.25],[160,0.48],[161,0.18],[162,0.34],[163,0.4],[164,0.22],[165,0.3],[166,0.46],[167,0.14],[168,0.38],[169,0.27],[170,0.52],[171,0.2],[172,0.33],[173,0.43],[174,0.24],[175,0.36],[176,0.1],[177,0.29],[178,0.47],[179,0.31],[180,0.19],[181,0.41],[182,0.26],[183,0.5],[184,0.34],[185,0.17],[186,0.39],[187,0.28],[188,0.45],[189,0.23],[190,0.33],[190.8,0.16]];
const chr4LogRPointsB = [[1.0,-0.22],[2.0,-0.38],[3.0,-0.14],[4.0,-0.27],[5.0,-0.34],[6.0,-0.18],[7.0,-0.25],[8.0,-0.11],[9.0,-0.3],[10.0,-0.36],[11.0,-0.2],[12.0,-0.13],[13.0,-0.27],[14.0,-0.22],[15.0,-0.39],[16.0,-0.1],[17.0,-0.24],[18.0,-0.3],[19.0,-0.17],[20.0,-0.26],[21.0,-0.35],[22.0,-0.12],[23.0,-0.23],[24.0,-0.31],[25.0,-0.19],[26.0,-0.07],[27.0,-0.28],[28.0,-0.34],[29.0,-0.15],
[31,0.09],[32,0.18],[33,-0.02],[34,0.13],[35,0.24],[36,0.06],[37,0.15],[38,-0.04],[39,0.2],[40,0.1],[41,0.28],[42,0.02],[43,0.16],[44,0.08],[45,0.21],[46,0.0],[47,0.12],[48,0.26],
[54,0.04],[56,0.13],[58,0.19],[60,0.0],[62,0.16],[64,0.09],[66,-0.06],[68,0.21],[70,0.11],[72,0.03],[74,0.17],[76,-0.05],[78,0.12],[80,0.08],[82,0.24],[84,-0.02],[86,0.13],[88,0.06],[90,0.2],[92,0.1],[94,-0.08],[96,0.15],[98,0.04],[100,0.18],[102,0.11],[104,-0.03],[106,0.09],[108,0.22],[110,0.0],[112,0.13],[114,0.07],[116,0.19],[118,-0.05],[120,0.1],[122,0.16],[124,0.03],[126,0.21],[128,0.09],[130,-0.02],[132,0.14],[134,0.06],[136,0.2],[138,0.1],[140,0.02],[142,0.17],[144,0.05],
[145.5,0.25],[146.5,0.32],[147.5,0.4],[148.5,0.22],[149.5,0.46],[150.5,0.3],[151.5,0.18],[152.5,0.37],[153.5,0.28],[154.5,0.42],[155.5,0.2],[156.5,0.33],[157.5,0.25],[158.5,0.5],[159.5,0.15],[160.5,0.31],[161.5,0.38],[162.5,0.24],[163.5,0.45],[164.5,0.29],[165.5,0.19],[166.5,0.35],[167.5,0.27],[168.5,0.49],[169.5,0.21],[170.5,0.32],[171.5,0.4],[172.5,0.16],[173.5,0.3],[174.5,0.43],[175.5,0.23],[176.5,0.37],[177.5,0.2],[178.5,0.33],[179.5,0.26],[180.5,0.47],[181.5,0.18],[182.5,0.35],[183.5,0.29],[184.5,0.41],[185.5,0.22],[186.5,0.32],[187.5,0.5],[188.5,0.27],[189.5,0.38],[190.5,0.2]];
const chr4LogROutliers = [[3.5,-0.432],[8.0,-0.432],[10.5,-0.432]];
const chr4BafPoints = [[0.5,0.72],[3,0.69],[5.5,0.74],[8,0.7],[10.5,0.67],[13,0.73],[15.5,0.71],[18,0.68],[20.5,0.75],[23,0.7],[25.5,0.66],[28,0.72],[1.5,0.27],[4,0.3],[6.5,0.25],[9,0.29],[11.5,0.32],[14,0.27],[16.5,0.3],[19,0.26],[21.5,0.31],[24,0.28],[26.5,0.33],[29,0.29],[13,0.6],
[30.5,0.54],[32,0.47],[33.5,0.52],[35,0.45],[36.5,0.55],[38,0.49],[39.5,0.42],[41,0.53],[42.5,0.48],[44,0.56],[45.5,0.46],[47,0.51],[48.5,0.44],
[53,0.52],[55.5,0.47],[58,0.54],[60.5,0.25],[63,0.55],[65.5,0.46],[68,0.52],[70.5,0.5],[73,0.57],[75.5,0.48],[78,0.53],[80.5,0.45],[83,0.51],[85.5,0.56],[88,0.49],[90.5,0.53],[93,0.47],[95.5,0.51],[98,0.55],[100.5,0.48],[103,0.52],[105.5,0.46],[108,0.54],[110.5,0.5],[113,0.57],[116,0.745],[115.5,0.47],[118,0.52],[120.5,0.49],[123,0.55],[125.5,0.46],[128,0.51],[130.5,0.54],[133,0.48],[135.5,0.53],[138,0.45],[140.5,0.52],[143,0.48],
[54.2,0.49],[56.8,0.53],[59.2,0.47],[61.8,0.51],[64.2,0.53],[66.8,0.48],[69.2,0.55],[71.8,0.47],[74.2,0.52],[76.8,0.5],[79.2,0.54],[81.8,0.48],[84.2,0.52],[86.8,0.46],[89.2,0.53],[91.8,0.5],[94.2,0.55],[96.8,0.48],[99.2,0.52],[101.8,0.47],[104.2,0.53],[106.8,0.5],[109.2,0.47],[111.8,0.54],[114.2,0.49],[116.8,0.52],[119.2,0.46],[121.8,0.53],[124.2,0.5],[126.8,0.55],[129.2,0.47],[131.8,0.52],[134.2,0.49],[136.8,0.54],[139.2,0.48],[141.8,0.53],
[145,0.64],[147.5,0.6],[150,0.66],[152.5,0.62],[155,0.58],[157.5,0.65],[160,0.61],[162.5,0.68],[165,0.6],[167.5,0.63],[170,0.57],[172.5,0.64],[175,0.62],[177.5,0.66],[180,0.59],[182.5,0.63],[185,0.61],[187.5,0.67],[190,0.6],
[146,0.38],[148.5,0.35],[151,0.4],[153.5,0.37],[156,0.42],[158.5,0.34],[161,0.39],[163.5,0.36],[166,0.41],[168.5,0.33],[171,0.38],[173.5,0.35],[176,0.4],[178.5,0.37],[181,0.32],[183.5,0.39],[186,0.36],[188.5,0.42],[190.5,0.37]];

// cytobands (hg19, Mb): [start, end, stain]
const chr1Bands = [[0,2.3,'gneg'],[2.3,5.4,'gpos25'],[5.4,7.2,'gneg'],[7.2,9.2,'gpos25'],[9.2,12.7,'gneg'],[12.7,16.2,'gpos50'],[16.2,20.4,'gneg'],[20.4,23.9,'gpos25'],[23.9,28,'gneg'],[28,30,'gpos25'],[30,32.3,'gneg'],[32.3,34.3,'gpos25'],[34.3,39.6,'gneg'],[39.6,43.7,'gpos25'],[43.7,46.3,'gneg'],[46.3,50.2,'gpos75'],[50.2,55.6,'gneg'],[55.6,58.5,'gpos50'],[58.5,60.8,'gneg'],[60.8,68.5,'gpos50'],[68.5,69.3,'gneg'],[69.3,84.4,'gpos100'],[84.4,87.9,'gneg'],[87.9,91.5,'gpos75'],[91.5,94.3,'gneg'],[94.3,99.3,'gpos75'],[99.3,101.8,'gneg'],[101.8,106.7,'gpos100'],[106.7,111.2,'gneg'],[111.2,115.5,'gpos50'],[115.5,117.2,'gneg'],[117.2,120.4,'gpos50'],[120.4,121.7,'gneg'],[121.7,125.1,'acen'],[125.1,128,'acen'],[128,142.6,'gvar'],[142.6,147,'gneg'],[147,150.3,'gpos50'],[150.3,155,'gneg'],[155,156.5,'gpos50'],[156.5,159.1,'gneg'],[159.1,160.5,'gpos50'],[160.5,165.5,'gneg'],[165.5,167.2,'gpos50'],[167.2,170.9,'gneg'],[170.9,172.9,'gpos75'],[172.9,176,'gneg'],[176,180.3,'gpos50'],[180.3,185.8,'gneg'],[185.8,190.8,'gpos100'],[190.8,193.8,'gneg'],[193.8,198.7,'gpos100'],[198.7,207.2,'gneg'],[207.2,211.5,'gpos25'],[211.5,214.5,'gneg'],[214.5,224.1,'gpos100'],[224.1,224.6,'gneg'],[224.6,227,'gpos25'],[227,230.7,'gneg'],[230.7,234.7,'gpos50'],[234.7,236.6,'gneg'],[236.6,243.7,'gpos75'],[243.7,249.25,'gneg']];
const chr2Bands = [[0,4.4,'gneg'],[4.4,7.1,'gpos50'],[7.1,12.2,'gneg'],[12.2,16.7,'gpos75'],[16.7,19.2,'gneg'],[19.2,24,'gpos75'],[24,27.9,'gneg'],[27.9,30,'gpos25'],[30,32.1,'gneg'],[32.1,36.6,'gpos75'],[36.6,38.6,'gneg'],[38.6,41.8,'gpos50'],[41.8,47.8,'gneg'],[47.8,52.9,'gpos100'],[52.9,55,'gneg'],[55,61.3,'gpos100'],[61.3,63.3,'gneg'],[63.3,68.9,'gpos50'],[68.9,71,'gneg'],[71,73.2,'gpos50'],[73.2,75,'gneg'],[75,83.3,'gpos100'],[83.3,90.5,'gneg'],[90.5,93.3,'acen'],[93.3,96.8,'acen'],[96.8,102.7,'gneg'],[102.7,106,'gpos50'],[106,107.5,'gneg'],[107.5,110.2,'gpos25'],[110.2,114.4,'gneg'],[114.4,118.8,'gpos50'],[118.8,122.4,'gneg'],[122.4,129.9,'gpos50'],[129.9,132.5,'gneg'],[132.5,135.1,'gpos25'],[135.1,136.8,'gneg'],[136.8,142.2,'gpos100'],[142.2,144.1,'gneg'],[144.1,148.7,'gpos100'],[148.7,149.9,'gneg'],[149.9,150.5,'gpos25'],[150.5,154.9,'gneg'],[154.9,159.8,'gpos75'],[159.8,163.7,'gneg'],[163.7,169.7,'gpos75'],[169.7,178,'gneg'],[178,180.6,'gpos50'],[180.6,183,'gneg'],[183,189.4,'gpos75'],[189.4,191.9,'gneg'],[191.9,197.4,'gpos75'],[197.4,203.3,'gneg'],[203.3,204.9,'gpos50'],[204.9,209,'gneg'],[209,215.3,'gpos100'],[215.3,221.5,'gneg'],[221.5,225.2,'gpos75'],[225.2,226.1,'gneg'],[226.1,231,'gpos100'],[231,235.6,'gpos50'],[235.6,237.3,'gneg'],[237.3,243.2,'gneg']];
const chr3Bands = [[0,2.8,'gpos50'],[2.8,4,'gneg'],[4,8.7,'gpos50'],[8.7,11.8,'gneg'],[11.8,13.3,'gpos25'],[13.3,16.4,'gneg'],[16.4,23.9,'gpos100'],[23.9,26.4,'gneg'],[26.4,30.9,'gpos75'],[30.9,32.1,'gneg'],[32.1,36.5,'gpos50'],[36.5,39.4,'gneg'],[39.4,43.7,'gpos75'],[43.7,44.1,'gneg'],[44.1,44.2,'gpos50'],[44.2,50.6,'gneg'],[50.6,52.3,'gpos25'],[52.3,54.4,'gneg'],[54.4,58.6,'gpos50'],[58.6,63.7,'gneg'],[63.7,69.8,'gpos50'],[69.8,74.2,'gneg'],[74.2,79.8,'gpos75'],[79.8,83.5,'gneg'],[83.5,87.2,'gpos75'],[87.2,87.9,'gneg'],[87.9,91,'acen'],[91,93.9,'acen'],[93.9,98.3,'gvar'],[98.3,100,'gneg'],[100,100.9,'gpos25'],[100.9,102.8,'gneg'],[102.8,106.2,'gpos75'],[106.2,107.9,'gneg'],[107.9,111.3,'gpos50'],[111.3,113.5,'gneg'],[113.5,117.3,'gpos75'],[117.3,119,'gneg'],[119,121.9,'gpos75'],[121.9,123.8,'gneg'],[123.8,125.8,'gpos25'],[125.8,129.2,'gneg'],[129.2,133.7,'gpos25'],[133.7,135.7,'gneg'],[135.7,138.7,'gpos25'],[138.7,142.8,'gneg'],[142.8,148.9,'gpos100'],[148.9,152.1,'gneg'],[152.1,155,'gpos50'],[155,157,'gneg'],[157,159,'gpos50'],[159,160.7,'gneg'],[160.7,167.6,'gpos100'],[167.6,170.9,'gneg'],[170.9,175.7,'gpos75'],[175.7,179,'gneg'],[179,182.7,'gpos75'],[182.7,184.5,'gneg'],[184.5,186,'gpos25'],[186,187.9,'gneg'],[187.9,192.3,'gpos75'],[192.3,198.02,'gneg']];
const chr4Bands = [[0,4.5,'gneg'],[4.5,6,'gpos25'],[6,11.3,'gneg'],[11.3,15.2,'gpos50'],[15.2,17.8,'gneg'],[17.8,21.3,'gpos75'],[21.3,27.7,'gneg'],[27.7,35.8,'gpos100'],[35.8,41.2,'gneg'],[41.2,44.6,'gpos50'],[44.6,48.2,'gneg'],[48.2,50.4,'acen'],[50.4,52.7,'acen'],[52.7,59.5,'gneg'],[59.5,66.6,'gpos100'],[66.6,70.5,'gneg'],[70.5,76.3,'gpos75'],[76.3,78.9,'gneg'],[78.9,82.4,'gpos50'],[82.4,84.1,'gneg'],[84.1,86.9,'gpos25'],[86.9,88,'gneg'],[88,93.7,'gpos75'],[93.7,95.1,'gneg'],[95.1,98.8,'gpos75'],[98.8,101.1,'gneg'],[101.1,107.7,'gpos50'],[107.7,114.1,'gneg'],[114.1,120.8,'gpos75'],[120.8,123.8,'gneg'],[123.8,128.8,'gpos50'],[128.8,131.1,'gneg'],[131.1,139.5,'gpos100'],[139.5,141.5,'gneg'],[141.5,146.8,'gpos25'],[146.8,148.7,'gneg'],[148.7,151.1,'gpos25'],[151.1,155.6,'gneg'],[155.6,161.8,'gpos100'],[161.8,164.5,'gneg'],[164.5,170.1,'gpos100'],[170.1,171.9,'gneg'],[171.9,176.3,'gpos75'],[176.3,177.5,'gneg'],[177.5,183.2,'gpos100'],[183.2,187.1,'gneg'],[187.1,191.15,'gpos25']];

// ---------------- CHART ----------------
const chromosomes = [
  {logRSeg: chr1LogRSegments, bafSeg: chr1BafSegments, logRPts: chr1LogRPoints.concat(chr1LogRPointsB), out: chr1LogROutliers, bafPts: chr1BafPoints, bands: chr1Bands},
  {logRSeg: chr2LogRSegments, bafSeg: chr2BafSegments, logRPts: chr2LogRPoints.concat(chr2LogRPointsB), out: chr2LogROutliers, bafPts: chr2BafPoints, bands: chr2Bands},
  {logRSeg: chr3LogRSegments, bafSeg: chr3BafSegments, logRPts: chr3LogRPoints.concat(chr3LogRPointsB), out: chr3LogROutliers, bafPts: chr3BafPoints, bands: chr3Bands},
  {logRSeg: chr4LogRSegments, bafSeg: chr4BafSegments, logRPts: chr4LogRPoints.concat(chr4LogRPointsB), out: chr4LogROutliers, bafPts: chr4BafPoints, bands: chr4Bands}
];
const stainColors = {gneg:'#FFFFFF', gpos25:'#BEBEBE', gpos50:'#808080', gpos75:'#404040', gpos100:'#000000', acen:'#FFFF00', gvar:'#FFFFFF'};
const FONT = 'DejaVu Sans';
const PTCOL = '#BEBEBE';
const RED = '#FF0000';

const grids = [], xAxes = [], yAxes = [], series = [], graphics = [];
const panelW = 622, plotH = 154;

function yAxisDef(gi, range, ticks, name) {
  return {
    gridIndex: gi, type: 'value', min: range[0], max: range[1],
    name: name, nameLocation: 'middle', nameRotate: 90, nameGap: 75,
    nameTextStyle: {fontFamily: FONT, fontSize: 26, color: '#000'},
    axisLine: {show: true, lineStyle: {color: '#000', width: 1.5}},
    axisTick: {show: true, length: 7, inside: false, customValues: ticks, lineStyle: {color: '#000', width: 1.5}},
    axisLabel: {show: true, customValues: ticks, margin: 20, padding: [4, 0, 0, 0], fontFamily: FONT, fontSize: 23, color: '#000', formatter: v => Number(v).toFixed(1)},
    splitLine: {show: false}
  };
}
function xAxisDef(gi, len) {
  return {gridIndex: gi, type: 'value', min: 0, max: len, show: false, splitLine: {show: false}};
}
function buildLine(segs) {
  const out = [];
  segs.forEach((s, k) => {
    if (k > 0 && s[0] - segs[k - 1][1] > 2) out.push([(s[0] + segs[k - 1][1]) / 2, '-']);
    out.push([s[0], s[2]], [s[1], s[2]]);
  });
  return out;
}
function bafRender(params, api) {
  const s = api.value(0), e = api.value(1), v = api.value(2);
  const vals = Math.abs(v - 0.5) < 1e-6 ? [v] : [v, 1 - v];
  return {type: 'group', children: vals.map(val => {
    const a = api.coord([s, val]), b = api.coord([e, val]);
    return {type: 'line', shape: {x1: a[0], y1: a[1], x2: b[0], y2: b[1]}, style: {stroke: RED, lineWidth: 7, lineCap: 'round'}};
  })};
}
function ideoRender(bands) {
  return function (params, api) {
    const i = params.dataIndex, b = bands[i], n = bands.length;
    const p0 = api.coord([b[0], 1]), p1 = api.coord([b[1], 0]);
    const x = p0[0], y = p0[1], w = p1[0] - p0[0], h = p1[1] - p0[1];
    let r = 0;
    const R = 8;
    if (i === 0) r = [R, 0, 0, R];
    else if (i === n - 1) r = [0, R, R, 0];
    else if (b[2] === 'acen' && bands[i + 1][2] === 'acen') r = [0, R, R, 0];
    else if (b[2] === 'acen' && bands[i - 1][2] === 'acen') r = [R, 0, 0, R];
    const children = [{type: 'rect', shape: {x: x, y: y, width: w, height: h, r: r}, style: {fill: stainColors[b[2]], stroke: '#000', lineWidth: 1}}];
    if (b[2] === 'gvar') {
      for (let x0 = x - h; x0 < x + w; x0 += 14) {
        const t0 = Math.max(0, (x - x0) / h), t1 = Math.min(1, (x + w - x0) / h);
        if (t1 <= t0) continue;
        children.push({type: 'line', shape: {x1: x0 + t0 * h, y1: y + h - t0 * h, x2: x0 + t1 * h, y2: y + h - t1 * h}, style: {stroke: '#A8A8A8', lineWidth: 1}});
      }
      children.push({type: 'rect', shape: {x: x, y: y, width: w, height: h}, style: {fill: 'none', stroke: '#000', lineWidth: 1}});
    }
    return {type: 'group', children: children};
  };
}
const dashLine = (val) => ({
  silent: true, symbol: ['none', 'none'], label: {show: false}, animation: false,
  lineStyle: {color: '#A9A9A9', width: 3, type: [24, 12], cap: 'round'},
  data: [{yAxis: val}]
});
const asterisk = 'path://M5,0L5,10M0.67,2.5L9.33,7.5M9.33,2.5L0.67,7.5';

chromosomes.forEach((c, i) => {
  const col = i % 2, row = Math.floor(i / 2);
  const left = col ? 877 : 109;
  const top = row ? 590 : 129;
  const len = chromosomeLengths[i];
  const g0 = i * 3;
  grids.push({left: left, top: top, width: panelW, height: plotH, show: true, borderColor: '#000', borderWidth: 2, backgroundColor: 'transparent', containLabel: false});
  grids.push({left: left, top: top + 176, width: panelW, height: plotH, show: true, borderColor: '#000', borderWidth: 2, backgroundColor: 'transparent', containLabel: false});
  grids.push({left: left, top: top + 338, width: panelW, height: 24, show: false, containLabel: false});
  xAxes.push(xAxisDef(g0, len), xAxisDef(g0 + 1, len), xAxisDef(g0 + 2, len));
  yAxes.push(yAxisDef(g0, logRRange, logRTicks, 'logR'));
  yAxes.push(yAxisDef(g0 + 1, bafRange, bafTicks, 'BAF'));
  yAxes.push({gridIndex: g0 + 2, type: 'value', min: 0, max: 1, show: false, splitLine: {show: false}});

  series.push({type: 'scatter', xAxisIndex: g0, yAxisIndex: g0, data: c.logRPts, symbol: 'rect', symbolSize: 5, itemStyle: {color: PTCOL}, z: 2, silent: true, markLine: dashLine(0)});
  series.push({type: 'scatter', xAxisIndex: g0, yAxisIndex: g0, data: c.out, symbol: asterisk, symbolSize: 10, itemStyle: {color: 'rgba(0,0,0,0)', borderColor: '#B4B4B4', borderWidth: 1.2}, z: 2, silent: true});
  series.push({type: 'line', xAxisIndex: g0, yAxisIndex: g0, data: buildLine(c.logRSeg), showSymbol: false, symbol: 'none', connectNulls: false, lineStyle: {color: RED, width: 5.5, cap: 'round', join: 'round'}, z: 5, silent: true});
  series.push({type: 'scatter', xAxisIndex: g0 + 1, yAxisIndex: g0 + 1, data: c.bafPts, symbol: 'rect', symbolSize: 5, itemStyle: {color: PTCOL}, z: 2, silent: true, markLine: dashLine(0.5)});
  series.push({type: 'custom', xAxisIndex: g0 + 1, yAxisIndex: g0 + 1, data: c.bafSeg, renderItem: bafRender, encode: {x: [0, 1], y: 2}, clip: true, z: 5, silent: true});
  series.push({type: 'custom', xAxisIndex: g0 + 2, yAxisIndex: g0 + 2, data: c.bands.map(b => [b[0], b[1]]), renderItem: ideoRender(c.bands), encode: {x: [0, 1]}, z: 3, silent: true});

  graphics.push({type: 'text', x: left + panelW / 2, y: top - 28, style: {text: chromosomeTitles[i], font: 'bold 30px "DejaVu Sans"', fill: '#000', textAlign: 'center', textVerticalAlign: 'middle'}});
});
graphics.push({type: 'text', x: 768, y: 23, style: {text: sampleName, font: 'bold 36px "DejaVu Sans"', fill: '#000', textAlign: 'center', textVerticalAlign: 'middle'}});

const chart = echarts.init(document.getElementById('c'), null, {renderer: 'canvas'});
chart.setOption({
  animation: false,
  backgroundColor: '#FFFFFF',
  grid: grids, xAxis: xAxes, yAxis: yAxes, series: series,
  graphic: graphics
});
</script></body></html>
